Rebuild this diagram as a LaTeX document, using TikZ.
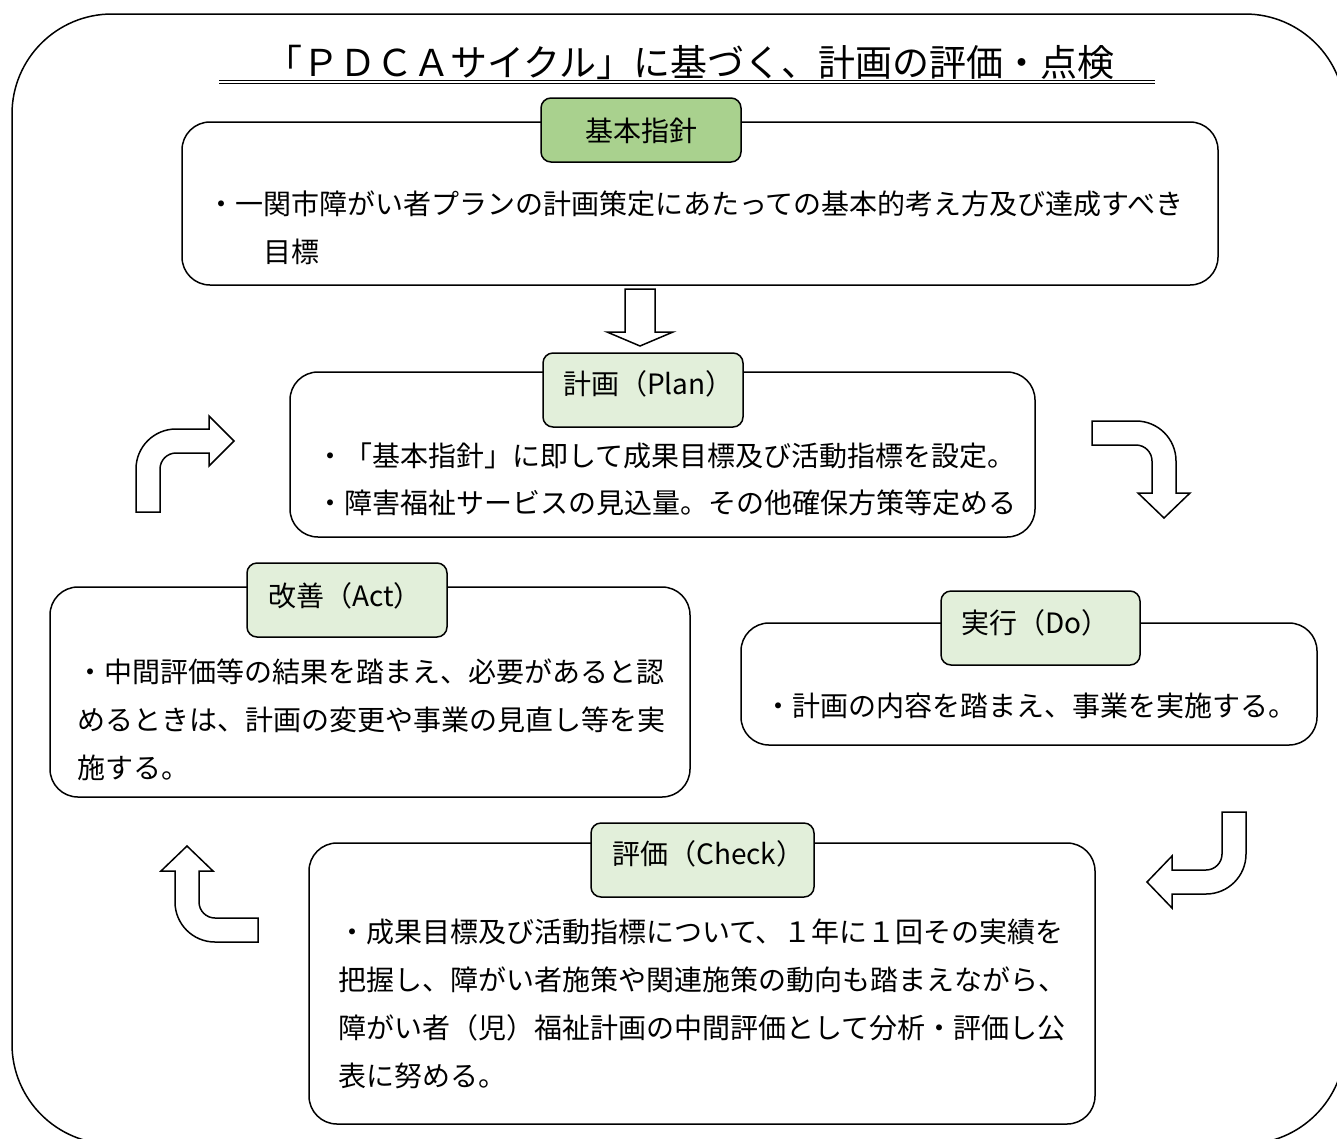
\documentclass[tikz,border=0pt]{standalone}
\usepackage{fontspec}
\newfontfamily\jp{Noto Sans CJK JP}
\definecolor{tabdark}{HTML}{A9D18E}
\definecolor{tablight}{HTML}{E2EFDA}
\begin{document}
\begin{tikzpicture}[x=1pt,y=-1pt,
  box/.style={draw, line width=1.5pt, rounded corners=28pt, fill=white, inner sep=0pt},
  tabbox/.style={draw, line width=1.5pt, rounded corners=10pt, fill=tablight, inner sep=0pt, minimum height=74pt},
  txt/.style={anchor=base west, inner sep=0pt, font=\jp\fontsize{28}{34}\selectfont},
  blockarrow/.style={draw, line width=1.5pt, fill=white, line join=miter}]
\useasboundingbox (0,0) rectangle (1337,1138);
\clip (0,0) rectangle (1337,1138);
% outer frame
\draw[line width=1.5pt, rounded corners=100pt] (12,14) rectangle (1345,1144);
% title
\node[anchor=base, inner sep=0pt, font=\jp\fontsize{37}{44}\selectfont] (title) at (690,76) {「ＰＤＣＡサイクル」に基づく、計画の評価・点検};
\draw[line width=1pt] (219,80) -- (1155,80);
\draw[line width=1pt] (219,83.5) -- (1155,83.5);
% boxes
\node[box, minimum width=1036pt, minimum height=163pt] (b1) at (700,203.5) {};
\node[box, minimum width=745pt, minimum height=165pt] (b2) at (662.5,454.5) {};
\node[box, minimum width=640pt, minimum height=210pt] (b3) at (370,692) {};
\node[box, minimum width=576pt, minimum height=122pt] (b4) at (1029,684) {};
\node[box, minimum width=786pt, minimum height=281pt] (b5) at (702,983.5) {};
% tabs
\node[tabbox, fill=tabdark, minimum width=200pt, minimum height=64pt] (t1) at (641,130) {};
\node[tabbox, minimum width=200pt] (t2) at (643,390) {};
\node[tabbox, minimum width=200pt] (t3) at (347,600) {};
\node[tabbox, minimum width=199pt] (t4) at (1040.5,628) {};
\node[tabbox, minimum width=223pt] (t5) at (702.5,860) {};
% tab texts
\node[txt, anchor=base] (t1l) at (641,141) {基本指針};
\node[txt] (t2l) at (563,394) {計画（Plan）};
\node[txt] (t3l) at (268,606) {改善（Act）};
\node[txt] (t4l) at (961,633) {実行（Do）};
\node[txt] (t5l) at (612,864) {評価（Check）};
% box texts
\node[txt] (b1a) at (207,214) {・一関市障がい者プランの計画策定にあたっての基本的考え方及び達成すべき};
\node[txt] (b1b) at (263,262) {目標};
\node[txt] (b2a) at (316,466) {・「基本指針」に即して成果目標及び活動指標を設定。};
\node[txt] (b2b) at (316,513) {・障害福祉サービスの見込量。その他確保方策等定める};
\node[txt] (b3a) at (76,682) {・中間評価等の結果を踏まえ、必要があると認};
\node[txt] (b3b) at (77,730) {めるときは、計画の変更や事業の見直し等を実};
\node[txt] (b3c) at (77,778) {施する。};
\node[txt] (b4a) at (764,716) {・計画の内容を踏まえ、事業を実施する。};
\node[txt] (b5a) at (338,942) {・成果目標及び活動指標について、１年に１回その実績を};
\node[txt] (b5b) at (338,990) {把握し、障がい者施策や関連施策の動向も踏まえながら、};
\node[txt] (b5c) at (338,1038) {障がい者（児）福祉計画の中間評価として分析・評価し公};
\node[txt] (b5d) at (338,1086) {表に努める。};
% down arrow
\draw[blockarrow] (625,289) -- (655,289) -- (655,332) -- (673,332) -- (640,346) -- (607,332) -- (625,332) -- cycle;
% upper-left bent arrow (pointing right)
\draw[blockarrow] (136,512) -- (136,469) .. controls (136,446.9) and (153.9,429) .. (176,429)
  -- (209,429) -- (209,416) -- (234,441) -- (209,466) -- (209,453) -- (176,453)
  .. controls (167.2,453) and (160,460.2) .. (160,469) -- (160,512) -- cycle;
% upper-right bent arrow (pointing down)
\draw[blockarrow] (1092,421) -- (1136,421) .. controls (1158.1,421) and (1176,438.9) .. (1176,461)
  -- (1176,493) -- (1190,493) -- (1164,518) -- (1138,493) -- (1152,493) -- (1152,461)
  .. controls (1152,452.2) and (1144.8,445) .. (1136,445) -- (1092,445) -- cycle;
% lower-right bent arrow (pointing left)
\draw[blockarrow] (1222,812) -- (1246,812) -- (1246,854) .. controls (1246,876.1) and (1228.1,894) .. (1206,894)
  -- (1172,894) -- (1172,908) -- (1147,882) -- (1172,856) -- (1172,870) -- (1206,870)
  .. controls (1214.8,870) and (1222,862.8) .. (1222,854) -- cycle;
% lower-left bent arrow (pointing up)
\draw[blockarrow] (187,846) -- (213,871) -- (199,871) -- (199,902) .. controls (199,910.8) and (206.2,918) .. (215,918)
  -- (258,918) -- (258,942) -- (215,942) .. controls (192.9,942) and (175,924.1) .. (175,902)
  -- (175,871) -- (161,871) -- cycle;
\end{tikzpicture}
\end{document}
